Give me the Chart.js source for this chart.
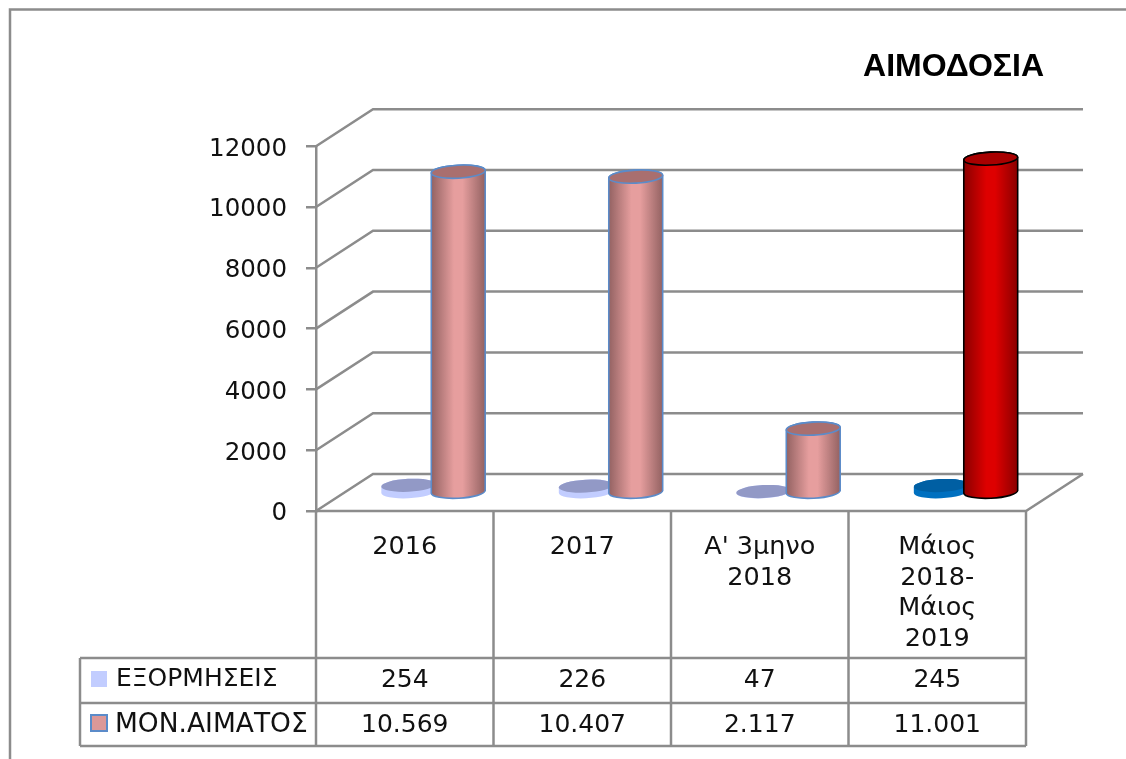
<!DOCTYPE html>
<html><head><meta charset="utf-8">
<style>html,body{margin:0;padding:0;background:#fff}canvas{display:block}</style>
<script src="https://cdn.jsdelivr.net/npm/chart.js@4/dist/chart.umd.min.js"></script>
</head><body>
<canvas id="c" width="1126" height="759"></canvas>
<script>
const categories = [['2016'], ['2017'], ["Α' 3μηνο", '2018'], ['Μάιος', '2018-', 'Μάιος', '2019']];
const seriesNames = ['ΕΞΟΡΜΗΣΕΙΣ', 'ΜΟΝ.ΑΙΜΑΤΟΣ'];
const exormiseis = [254, 226, 47, 245];
const monades = [10569, 10407, 2117, 11001];
const yTicks = [0, 2000, 4000, 6000, 8000, 10000, 12000];

const discSide = ['#C2CDFF', '#C2CDFF', '#C2CDFF', '#0070C0'];
const discTop  = ['#9299C6', '#9299C6', '#9299C6', '#005FA3'];
const cylSide  = ['#E69E9E', '#E69E9E', '#E69E9E', '#DE0000'];
const cylEdge  = ['#936262', '#936262', '#936262', '#8A0000'];
const cylTop   = ['#A96F6F', '#A96F6F', '#A96F6F', '#A80000'];
const cylLine  = ['#5B8BC9', '#5B8BC9', '#5B8BC9', '#000000'];

const GRID = '#8C8C8C', TEXT = '#111111', LW = 2.5;
const FONT = '"DejaVu Sans", sans-serif';
const DX = 57, DY = 37;               // depth of the 3D box
const ROWS = [658, 703, 746], TABLE_LEFT = 80;

const fmt = v => String(v).replace(/\B(?=(\d{3})+$)/g, '.');

function drawSeries(chart, index) {
  const { ctx } = chart;
  const isCyl = index === 1;
  chart.getDatasetMeta(index).data.forEach((el, i) => {
    const rx = el.width / 2 + 2, ry = 6.5, rot = -0.05;
    const cx = el.x + DX / 2;
    const yb = el.base - 18, yt = el.y - 18;
    const top = (isCyl ? cylTop : discTop)[i], line = isCyl ? cylLine[i] : null;
    let fill = discSide[i];
    if (isCyl) {
      fill = ctx.createLinearGradient(cx - rx, 0, cx + rx, 0);
      fill.addColorStop(0, cylEdge[i]); fill.addColorStop(0.42, cylSide[i]);
      fill.addColorStop(0.58, cylSide[i]); fill.addColorStop(1, cylEdge[i]);
    }
    ctx.save();
    ctx.beginPath();
    ctx.ellipse(cx, yb, rx, ry, rot, 0, Math.PI);
    ctx.ellipse(cx, yt, rx, ry, rot, Math.PI, Math.PI * 2);
    ctx.closePath();
    ctx.fillStyle = fill;
    ctx.fill();
    if (line) { ctx.strokeStyle = line; ctx.lineWidth = 1.6; ctx.stroke(); }
    ctx.beginPath();
    ctx.ellipse(cx, yt, rx, ry, rot, 0, Math.PI * 2);
    ctx.fillStyle = top;
    ctx.fill();
    if (line) { ctx.strokeStyle = line; ctx.lineWidth = 1.6; ctx.stroke(); }
    ctx.restore();
  });
}

const scene = {
  id: 'scene',
  afterLayout(chart) { chart.titleBlock.right += 18; },
  beforeDraw(chart) { chart.ctx.filter = 'blur(0.5px)'; },
  beforeDatasetsDraw(chart) {
    const { ctx, scales: { x, y } } = chart;
    ctx.save();
    ctx.strokeStyle = GRID; ctx.lineWidth = LW;
    // frame
    ctx.beginPath(); ctx.moveTo(10, 759); ctx.lineTo(10, 9.5); ctx.lineTo(1126, 9.5); ctx.stroke();
    // side wall + back wall grid lines
    yTicks.forEach(t => {
      const p = y.getPixelForValue(t);
      ctx.beginPath();
      ctx.moveTo(x.left, p); ctx.lineTo(x.left + DX, p - DY); ctx.lineTo(x.right + DX, p - DY);
      ctx.stroke();
    });
    // floor
    const p0 = y.getPixelForValue(0);
    ctx.beginPath(); ctx.moveTo(x.right + DX, p0 - DY); ctx.lineTo(x.right, p0); ctx.lineTo(x.left, p0); ctx.stroke();
    ctx.restore();
  },
  beforeDatasetDraw() { return false; },
  afterDatasetsDraw(chart) {
    drawSeries(chart, 0);
    drawSeries(chart, 1);
    const { ctx, scales: { x } } = chart;
    const half = (x.getPixelForValue(1) - x.getPixelForValue(0)) / 2;
    ctx.save();
    ctx.strokeStyle = GRID; ctx.lineWidth = LW;
    // data table: category columns
    categories.forEach((c, i) => {
      const r = x.getPixelForValue(i) + half;
      ctx.beginPath(); ctx.moveTo(r, x.top); ctx.lineTo(r, ROWS[2]); ctx.stroke();
    });
    ctx.beginPath(); ctx.moveTo(x.left, x.top); ctx.lineTo(x.left, ROWS[2]); ctx.stroke();
    ROWS.forEach(r => { ctx.beginPath(); ctx.moveTo(TABLE_LEFT, r); ctx.lineTo(x.right, r); ctx.stroke(); });
    ctx.beginPath(); ctx.moveTo(TABLE_LEFT, ROWS[0]); ctx.lineTo(TABLE_LEFT, ROWS[2]); ctx.stroke();
    // values
    ctx.fillStyle = TEXT; ctx.font = '25px ' + FONT; ctx.textBaseline = 'middle'; ctx.textAlign = 'center';
    [exormiseis, monades].forEach((arr, r) => {
      const yc = (ROWS[r] + ROWS[r + 1]) / 2 + r;
      arr.forEach((v, i) => ctx.fillText(fmt(v), x.getPixelForValue(i), yc));
    });
    // row keys
    ctx.textAlign = 'left';
    ctx.font = '25px ' + FONT; ctx.fillText(seriesNames[0], 116, 679);
    ctx.font = '26.5px ' + FONT; ctx.fillText(seriesNames[1], 115, 725);
    ctx.fillStyle = discSide[0]; ctx.fillRect(91, 671, 16, 16);
    ctx.fillStyle = '#DC9898'; ctx.strokeStyle = cylLine[0]; ctx.lineWidth = 2;
    ctx.fillRect(91, 715, 16, 16); ctx.strokeRect(91, 715, 16, 16);
    ctx.restore();
  }
};

new Chart(document.getElementById('c'), {
  type: 'bar',
  data: {
    labels: categories,
    datasets: [
      { label: seriesNames[0], data: exormiseis, backgroundColor: discSide, categoryPercentage: 0.563, barPercentage: 1 },
      { label: seriesNames[1], data: monades, backgroundColor: cylSide, categoryPercentage: 0.563, barPercentage: 1 }
    ]
  },
  plugins: [scene],
  options: {
    responsive: false, animation: false,
    layout: { padding: { left: 0, right: 100, top: 0, bottom: 0 } },
    plugins: {
      legend: { display: false }, tooltip: { enabled: false },
      title: { display: true, text: 'ΑΙΜΟΔΟΣΙΑ', align: 'end', color: '#000',
        font: { family: '"Liberation Sans", sans-serif', size: 32, weight: 'bold', lineHeight: 1.1 },
        padding: { top: 50, bottom: 61 } }
    },
    scales: {
      x: {
        grid: { display: false }, border: { display: false },
        afterFit(s) { s.height = 248; },
        ticks: { color: TEXT, font: { family: FONT, size: 25.5, lineHeight: 1.2 }, padding: 13, maxRotation: 0, autoSkip: false }
      },
      y: {
        min: 0, max: 12000,
        afterFit(s) { s.width = 316; },
        afterBuildTicks(s) { s.ticks = yTicks.map(value => ({ value })); },
        grid: { drawOnChartArea: false, drawTicks: true, tickLength: 10, color: GRID, lineWidth: LW },
        border: { display: true, color: GRID, width: LW },
        ticks: { color: TEXT, font: { family: FONT, size: 24.5 }, padding: 19, labelOffset: 3, callback: v => String(v) }
      }
    }
  }
});
</script>
</body></html>
